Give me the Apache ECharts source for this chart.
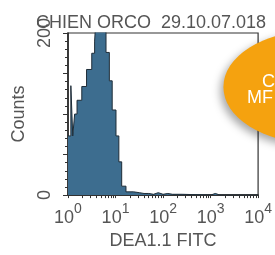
<!DOCTYPE html>
<html>
<head>
    <meta charset="utf-8">
    <title>CHIEN ORCO</title>
    <style>
        html, body { margin: 0; padding: 0; background: #fff; }
    </style>
</head>
<body>
    <div id="main" style="width: 275px;height:255px;"></div>
    <script src="https://cdn.jsdelivr.net/npm/echarts@6/dist/echarts.min.js"></script>
    <script type="text/javascript">
        var myChart = echarts.init(document.getElementById('main'));

        // bin left edges, as decade exponents (10^x), last one is the right end
        var binEdges = [0, 0.06, 0.1, 0.14, 0.19, 0.29, 0.39, 0.5, 0.56, 0.6,
                        0.8, 0.87, 0.93, 1.01, 1.07, 1.13, 1.22, 1.38, 1.5, 1.6,
                        1.7, 1.8, 1.9, 2.0, 2.1, 2.2, 2.4, 3.0, 3.1, 3.2, 4.0];
        // counts per bin (values over 200 are cut by the axis)
        var binCounts = [73, 135, 73, 100, 117, 134, 155, 175, 190, 230,
                         176, 141, 105, 73, 41, 11, 4, 3, 2, 2,
                         1, 3, 1, 2, 1, 1, 0, 2, 0, 0];
        var decades = [0, 1, 2, 3, 4];
        var countTicks = [0, 200];

        // step points: each bin starts at its left edge
        var histData = binEdges.map(function (e, i) {
            return [e, i < binCounts.length ? binCounts[i] : 0];
        });

        // log minor ticks 1..9 in every decade
        var xTicks = [];
        for (var d = 0; d < 4; d++) {
            for (var k = 1; k < 10; k++) {
                xTicks.push(d + Math.log10(k));
            }
        }
        xTicks.push(4);

        var font = 'Liberation Sans, Arial, sans-serif';
        var grey = '#555';

        var option = {
            animation: false,
            title: {
                text: 'CHIEN ORCO  29.10.07.018',
                left: 31,
                top: 9,
                textStyle: { fontFamily: font, fontSize: 18, fontWeight: 'normal', color: grey }
            },
            grid: {
                left: 68, right: 13, top: 33, bottom: 53,
                show: true, borderColor: '#333', borderWidth: 1.2
            },
            xAxis: {
                type: 'value',
                min: 0, max: 4, interval: 1,
                name: 'DEA1.1 FITC',
                nameLocation: 'middle',
                nameGap: 35,
                nameTextStyle: { fontFamily: font, fontSize: 18, color: grey },
                axisLine: { lineStyle: { color: '#222', width: 1.5 } },
                axisTick: { customValues: xTicks, length: 3, lineStyle: { color: '#333' } },
                splitLine: { show: false },
                axisLabel: {
                    margin: 7,
                    formatter: function (v) {
                        return decades.indexOf(v) >= 0 ? '{b|10}{s|' + v + '}' : '';
                    },
                    rich: {
                        b: { fontFamily: font, fontSize: 18, color: grey, lineHeight: 32 },
                        s: { fontFamily: font, fontSize: 14, color: grey, lineHeight: 14, verticalAlign: 'top' }
                    }
                }
            },
            yAxis: {
                type: 'value',
                min: 0, max: 200, interval: 50,
                name: 'Counts',
                nameLocation: 'middle',
                nameRotate: 90,
                nameGap: 36,
                nameTextStyle: { fontFamily: font, fontSize: 18, color: grey },
                axisLine: { show: true, lineStyle: { color: '#222', width: 1.5 } },
                axisTick: { show: true, length: 5, lineStyle: { color: '#333' } },
                minorTick: { show: true, splitNumber: 5, length: 3, lineStyle: { color: '#333' } },
                splitLine: { show: false },
                axisLabel: {
                    rotate: 90,
                    margin: 14,
                    fontFamily: font, fontSize: 18, color: grey,
                    formatter: function (v) {
                        return countTicks.indexOf(v) >= 0 ? String(v) : '';
                    }
                }
            },
            series: [{
                type: 'line',
                step: 'end',
                data: histData,
                symbol: 'none',
                lineStyle: { color: '#1f2d38', width: 1 },
                areaStyle: { color: '#3d6d8f', opacity: 1 }
            }],
            graphic: [{
                type: 'group',
                children: [{
                    type: 'circle',
                    x: 313, y: 87,
                    scaleX: 1.6,
                    shape: { cx: 0, cy: 0, r: 56 },
                    style: {
                        fill: '#f5a20f',
                        shadowBlur: 8,
                        shadowOffsetX: -3,
                        shadowOffsetY: 4,
                        shadowColor: 'rgba(0,0,0,0.35)'
                    }
                }, {
                    type: 'text',
                    x: 262, y: 73,
                    style: { text: 'C', fill: '#fff', font: '18px Liberation Sans, Arial, sans-serif' }
                }, {
                    type: 'text',
                    x: 247, y: 89,
                    style: { text: 'MF', fill: '#fff', font: '18px Liberation Sans, Arial, sans-serif' }
                }]
            }]
        };

        myChart.setOption(option);
    </script>
</body>
</html>
